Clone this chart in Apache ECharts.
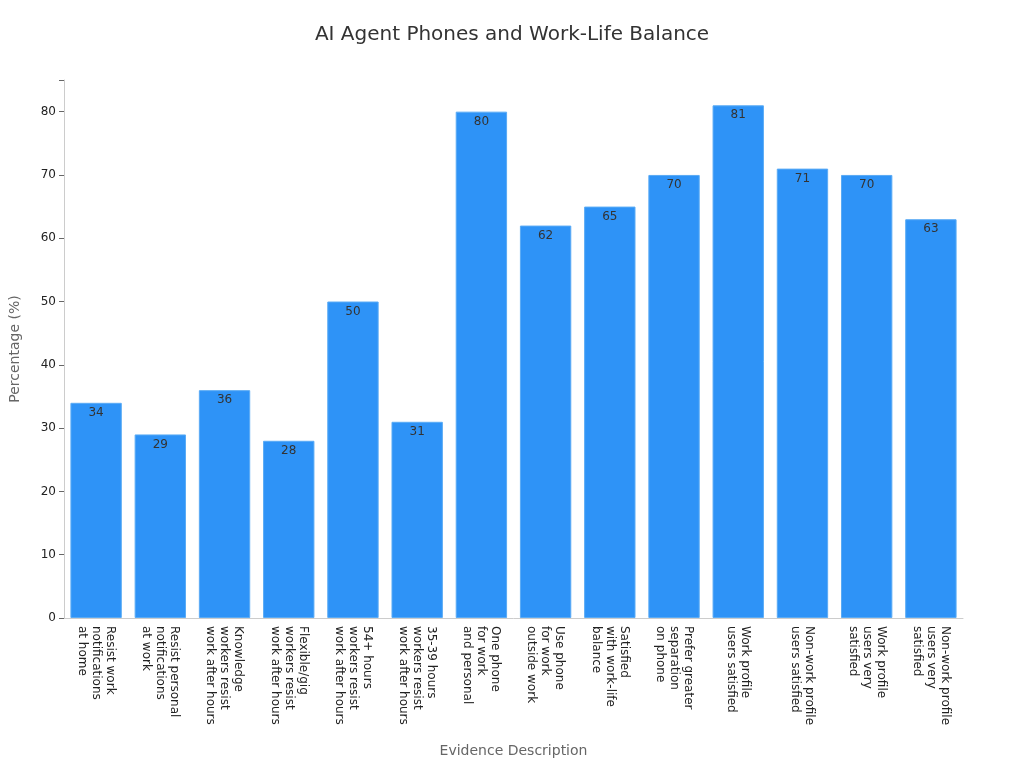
<!DOCTYPE html>
<html><head><meta charset="utf-8">
<script src="https://cdn.jsdelivr.net/npm/echarts@6/dist/echarts.min.js"></script>
<style>html,body{margin:0;padding:0}#main{width:1024px;height:768px}</style>
</head><body><div id="main"></div>
<script>
var categories = [
  'Resist work\nnotifications\nat home',
  'Resist personal\nnotifications\nat work',
  'Knowledge\nworkers resist\nwork after hours',
  'Flexible/gig\nworkers resist\nwork after hours',
  '54+ hours\nworkers resist\nwork after hours',
  '35-39 hours\nworkers resist\nwork after hours',
  'One phone\nfor work\nand personal',
  'Use phone\nfor work\noutside work',
  'Satisfied\nwith work-life\nbalance',
  'Prefer greater\nseparation\non phone',
  'Work profile\nusers satisfied',
  'Non-work profile\nusers satisfied',
  'Work profile\nusers very\nsatisfied',
  'Non-work profile\nusers very\nsatisfied'
];
var values = [34, 29, 36, 28, 50, 31, 80, 62, 65, 70, 81, 71, 70, 63];
var yTicks = [0, 10, 20, 30, 40, 50, 60, 70, 80];

var chart = echarts.init(document.getElementById('main'));
chart.setOption({
  textStyle: {fontFamily: 'DejaVu Sans'},
  title: {text: 'AI Agent Phones and Work-Life Balance', left: 'center', top: 20,
    textStyle: {fontSize: 20, fontWeight: 'normal', color: '#333'}},
  grid: {left: 61, right: 61, top: 80, bottom: 150},
  xAxis: {
    type: 'category', data: categories,
    name: 'Evidence Description', nameLocation: 'middle', nameGap: 126,
    nameTextStyle: {fontSize: 14, color: '#666'},
    axisLine: {lineStyle: {color: '#ccc'}},
    axisTick: {lineStyle: {color: '#666'}},
    axisLabel: {rotate: -90, interval: 0, fontSize: 12, color: '#222', lineHeight: 14, margin: 8,
      verticalAlign: 'middle', align: 'left'}
  },
  yAxis: {
    type: 'value', min: 0, max: 85, interval: 10,
    name: 'Percentage (%)', nameLocation: 'middle', nameGap: 42,
    nameTextStyle: {fontSize: 14, color: '#666'},
    axisLine: {show: true, lineStyle: {color: '#ccc'}},
    axisTick: {show: true, lineStyle: {color: '#666'}},
    splitLine: {show: false},
    axisLabel: {fontSize: 12, color: '#222',
      formatter: function (v) { return yTicks.indexOf(v) >= 0 ? v : ''; }}
  },
  series: [{
    type: 'bar', data: values, barWidth: '80%',
    itemStyle: {color: '#2e93f7', borderColor: '#5aabf5', borderWidth: 1},
    label: {show: true, position: 'insideTop', color: '#333', fontSize: 12, distance: 4}
  }]
});
</script></body></html>
